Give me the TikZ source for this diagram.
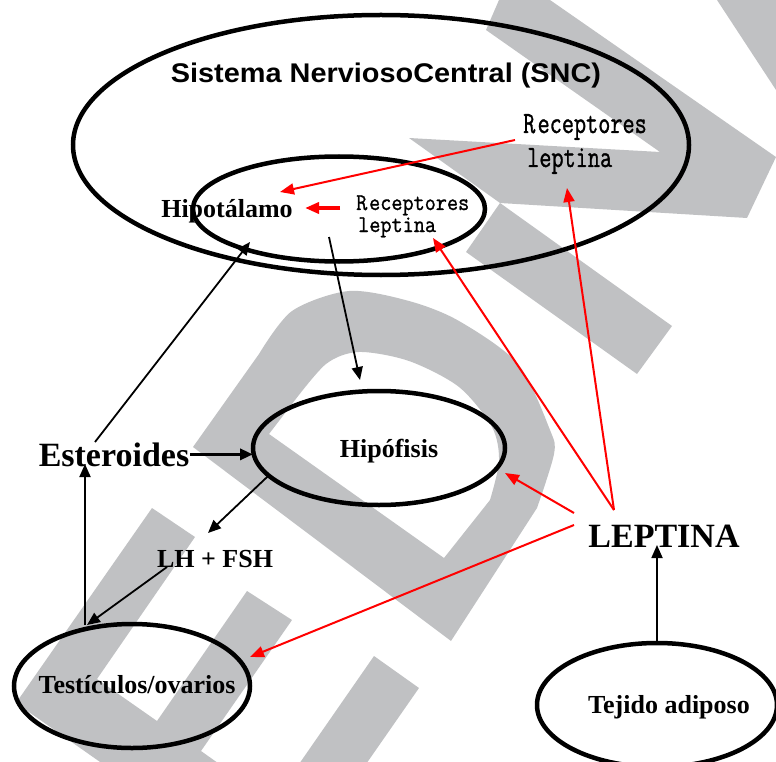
\documentclass[tikz,border=0pt]{standalone}
\usepackage{fontspec}
\usepackage{graphicx}
\setmainfont{Liberation Serif}
\newfontfamily\sncfont{Liberation Sans}
\newfontfamily\recfont{Latin Modern Mono}[FakeBold=1.2]
\usetikzlibrary{arrows.meta,shapes.geometric}
\definecolor{myred}{rgb}{1,0,0}
\definecolor{wmgray}{RGB}{192,193,195}
\newcommand{\squeeze}[2]{\scalebox{#1}[1]{#2}}

\begin{document}
\begin{tikzpicture}[x=1pt,y=-1pt,
  organ/.style={draw,ellipse,line width=4.5pt,inner sep=0pt,outer sep=0pt},
  lbl/.style={font=\bfseries\fontsize{26}{28}\selectfont,inner sep=1pt},
  biglbl/.style={font=\bfseries\fontsize{34}{36}\selectfont,inner sep=1pt},
  recbig/.style={font=\recfont\fontsize{31}{33}\selectfont,inner sep=0pt},
  recsmall/.style={font=\recfont\fontsize{24}{26}\selectfont,inner sep=0pt},
  blk/.style={line width=1.8pt,-{Triangle[length=13pt,width=11pt]}},
  rojo/.style={myred,line width=2pt,-{Triangle[length=14pt,width=11pt]}}]
\useasboundingbox (0,0) rectangle (776,762);
% watermark in the background
\begin{scope}
\clip (0,0) rectangle (776,762);
\fill[wmgray] (499,0) -- (550,0) -- (776,157) -- (747,218) -- (500,203) -- (409,138) -- (660,152) -- (486,30) -- cycle;
\fill[wmgray] (500,203) -- (466,252) -- (637,374) -- (672,326) -- cycle;
\fill[wmgray] (717,0) -- (776,0) -- (776,90) -- cycle;
\fill[wmgray,even odd rule] (193,447) -- plot[smooth] coordinates {(259,354) (292,311) (349,291) (409,301) (459,321) (518,364) (550,430) (554,454) (537,508)} -- (451,641) -- cycle
  (269,434) -- plot[smooth] coordinates {(292,404) (326,364) (359,352) (409,361) (459,387) (492,427) (499,461) (490,500)} -- (444,558) -- cycle;
\fill[wmgray] (152,508) -- (195,537) -- (97,679) -- (157,721) -- (247,591) -- (292,620) -- (201,751) -- (256,790) -- (140,790) -- (16,703) -- cycle;
\fill[wmgray] (374,656) -- (419,688) -- (348,790) -- (281,790) -- cycle;
\end{scope}
% ellipses
\node[organ,minimum width=616pt,minimum height=260pt] (snc) at (381,145) {};
\node[organ,minimum width=292pt,minimum height=105pt] (hypo) at (339,209) {};
\node[organ,minimum width=252pt,minimum height=114pt] (hipof) at (379,448) {};
\node[organ,minimum width=236pt,minimum height=124pt] (testi) at (132,686) {};
\node[organ,minimum width=240pt,minimum height=124pt] (tejido) at (657,705) {};
% labels
\node[font=\sncfont\bfseries\fontsize{27}{30}\selectfont,inner sep=0pt,anchor=base] (sncLabel) at (386,83) {\squeeze{1.07}{Sistema NerviosoCentral (SNC)}};
\node[lbl,anchor=base] (hipotalamo) at (227,218) {Hipotálamo};
\node[recsmall,anchor=base west] (recIn) at (356,210) {\squeeze{.9}{R\kern2pt eceptores}};
\node[recsmall,anchor=base west] (recInLep) at (358,232) {\squeeze{.9}{leptina}};
\node[recbig,anchor=base west] (recOut) at (523,133) {\squeeze{.76}{R\kern3pt eceptores}};
\node[recbig,anchor=base west] (recOutLep) at (527,167) {\squeeze{.76}{leptina}};
\node[lbl,anchor=base] (hipofisis) at (389,457) {Hipófisis};
\node[biglbl,anchor=base] (esteroides) at (114,466) {Esteroides};
\node[lbl,anchor=base] (lhfsh) at (215,567) {LH + FSH};
\node[biglbl,anchor=base] (leptina) at (664,547) {LEPTINA};
\node[lbl,anchor=base] (testiTxt) at (137,693) {Testículos/ovarios};
\node[lbl,anchor=base] (tejidoTxt) at (669,713) {Tejido adiposo};
\coordinate (lepTop) at ([shift={(-50pt,37pt)}]leptina.base);
% draw the arrows
\draw[rojo] ([shift={(-8pt,-7pt)}]recOut.base west) -- ([shift={(53pt,26pt)}]hipotalamo.base);
\draw[rojo,line width=4pt] ([shift={(-16pt,2pt)}]recIn.base west) -- ([shift={(78pt,10pt)}]hipotalamo.base);
\draw[rojo] (lepTop) -- ([shift={(75pt,-6pt)}]recInLep.base west);
\draw[rojo] (lepTop) -- ([shift={(40pt,-21pt)}]recOutLep.base west);
\draw[rojo] ([shift={(-90pt,34pt)}]leptina.base) -- ([shift={(126pt,-25pt)}]hipof.center);
\draw[rojo] ([shift={(-90pt,22pt)}]leptina.base) -- ([shift={(118pt,29pt)}]testi.center);
\draw[blk] ([shift={(-19pt,24pt)}]esteroides.base) -- ([shift={(-89pt,-33pt)}]hypo.center);
\draw[blk] ([shift={(-10pt,-28pt)}]hypo.center) -- ([shift={(-19pt,68pt)}]hipof.center);
\draw[blk,line width=3.5pt] (esteroides.east) -- (esteroides.east -| hipof.west);
\draw[blk] (hipof.194) -- ([shift={(-7pt,34pt)}]lhfsh.base);
\draw[blk] ([shift={(-48pt,0pt)}]lhfsh.base) -- ([shift={(-45pt,61pt)}]testi.center);
\draw[blk] ([shift={(-47pt,61pt)}]testi.center) -- ([shift={(-29pt,2pt)}]esteroides.base);
\draw[blk] (tejido.north) -- ([shift={(-7pt,2pt)}]leptina.base);
\end{tikzpicture}
\end{document}
